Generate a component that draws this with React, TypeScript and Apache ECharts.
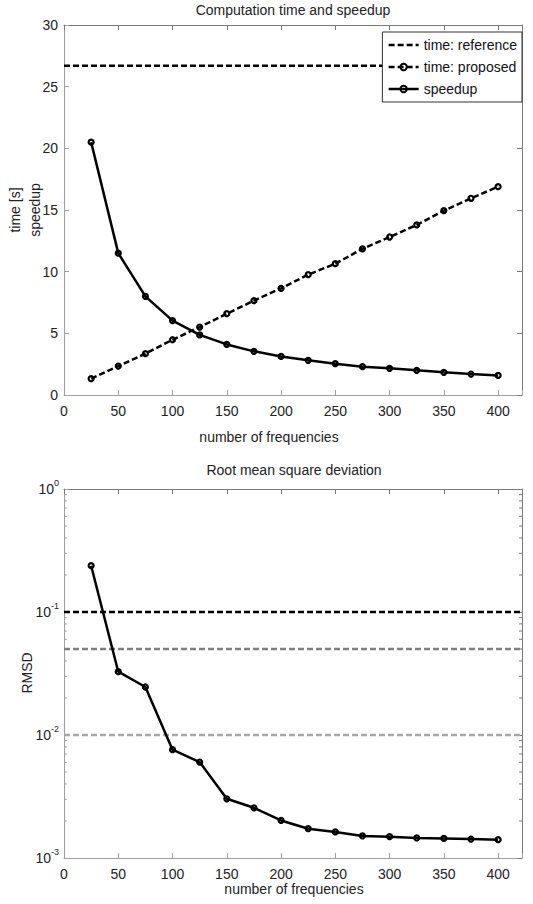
import React, { useEffect, useRef } from "react";
import * as echarts from "echarts";

// ---- data ----
const freqs = [25, 50, 75, 100, 125, 150, 175, 200, 225, 250, 275, 300, 325, 350, 375, 400];
const speedup = [20.5, 11.5, 8.0, 6.03, 4.87, 4.1, 3.54, 3.13, 2.81, 2.54, 2.3, 2.16, 2.0, 1.84, 1.7, 1.59];
const timeProposed = [1.32, 2.35, 3.35, 4.48, 5.51, 6.59, 7.65, 8.65, 9.76, 10.65, 11.85, 12.81, 13.79, 14.95, 15.95, 16.89];
const timeReference = 26.7;
const rmsd = [0.2378, 0.0327, 0.02456, 0.0076, 0.00603, 0.00303, 0.00256, 0.00202, 0.00173, 0.00163, 0.00151, 0.00149, 0.001455, 0.001443, 0.001426, 0.001409];
const rmsdThresholds = [0.1, 0.05, 0.01];
const thresholdColors = ["#000000", "#808080", "#a8a8a8"];
const xMin = 0;
const xMax = 422;
const xTickStep = 50;
const timeTicks = { min: 0, max: 30, step: 5 };
const rmsdRange = { min: 0.001, max: 1 };
const logMinorTicks = [
  0.002, 0.003, 0.004, 0.005, 0.006, 0.007, 0.008, 0.009,
  0.02, 0.03, 0.04, 0.05, 0.06, 0.07, 0.08, 0.09,
  0.2, 0.3, 0.4, 0.5, 0.6, 0.7, 0.8, 0.9,
];
const legendNames = ["time: reference", "time: proposed", "speedup"];

const FONT = '"Liberation Sans", Arial, Helvetica, sans-serif';
const TEXT = "#222222";
const AXIS_LIGHT = "#a0a0a0";
const AXIS_DARK = "#7a7a7a";

export default function App() {
  const ref = useRef<HTMLDivElement>(null);

  useEffect(() => {
    document.body.style.margin = "0";
    if (!ref.current) return;
    const chart = echarts.init(ref.current, null, { renderer: "svg" });

    const xLabelFmt = (v: number) => (Math.abs(v % xTickStep) < 1e-9 ? String(v) : "");

    const bottomX = (gi: number) => ({
      gridIndex: gi,
      type: "value",
      min: xMin,
      max: xMax,
      interval: xTickStep,
      position: "bottom",
      axisLine: { onZero: false, lineStyle: { color: AXIS_LIGHT, width: 1 } },
      axisTick: { inside: true, length: 5, lineStyle: { color: AXIS_LIGHT } },
      axisLabel: { formatter: xLabelFmt, margin: 9, color: TEXT, fontSize: 14, fontFamily: FONT },
      splitLine: { show: false },
    });
    const topX = (gi: number) => ({
      gridIndex: gi,
      type: "value",
      min: xMin,
      max: xMax,
      interval: xTickStep,
      position: "top",
      axisLine: { onZero: false, lineStyle: { color: AXIS_DARK, width: 1 } },
      axisTick: { inside: true, length: 5, lineStyle: { color: AXIS_DARK } },
      axisLabel: { show: false },
      splitLine: { show: false },
    });

    const markerStyle = {
      symbol: "circle",
      symbolSize: 5,
      itemStyle: { color: "rgba(0,0,0,0)", borderColor: "#000", borderWidth: 2.2 },
    };

    const option: any = {
      animation: false,
      backgroundColor: "#ffffff",
      textStyle: { fontFamily: FONT },
      grid: [
        { left: 64, top: 25, width: 458, height: 370 },
        { left: 64, top: 489, width: 458, height: 369 },
      ],
      legend: {
        data: [
          { name: legendNames[0], itemStyle: { opacity: 0 } },
          { name: legendNames[1] },
          { name: legendNames[2] },
        ],
        orient: "vertical",
        right: 11,
        top: 32,
        itemWidth: 30,
        itemHeight: 8,
        itemGap: 8,
        padding: [6, 5, 6, 5],
        borderColor: "#333",
        borderWidth: 1,
        borderRadius: 0,
        backgroundColor: "#fff",
        lineStyle: { width: 2.5 },
        textStyle: { fontSize: 14, color: "#111", fontFamily: FONT },
      },
      xAxis: [bottomX(0), topX(0), bottomX(1), topX(1)],
      yAxis: [
        {
          gridIndex: 0,
          type: "value",
          min: timeTicks.min,
          max: timeTicks.max,
          interval: timeTicks.step,
          position: "left",
          axisLine: { onZero: false, lineStyle: { color: AXIS_LIGHT } },
          axisTick: { inside: true, length: 5, lineStyle: { color: AXIS_LIGHT } },
          axisLabel: { margin: 6, color: TEXT, fontSize: 14, fontFamily: FONT },
          splitLine: { show: false },
        },
        {
          gridIndex: 0,
          type: "value",
          min: timeTicks.min,
          max: timeTicks.max,
          interval: timeTicks.step,
          position: "right",
          axisLine: { onZero: false, lineStyle: { color: AXIS_DARK } },
          axisTick: { inside: true, length: 5, lineStyle: { color: AXIS_DARK } },
          axisLabel: { show: false },
          splitLine: { show: false },
        },
        {
          gridIndex: 1,
          type: "log",
          logBase: 10,
          min: rmsdRange.min,
          max: rmsdRange.max,
          splitNumber: 3,
          position: "left",
          axisLine: { onZero: false, lineStyle: { color: AXIS_LIGHT } },
          axisTick: { inside: true, length: 5, lineStyle: { color: AXIS_LIGHT } },
          axisLabel: {
            margin: 5,
            color: TEXT,
            fontFamily: FONT,
            formatter: (v: number) => `{b|10}{s|${Math.round(Math.log10(v))}}`,
            rich: {
              b: { fontSize: 14, fontFamily: FONT, color: TEXT, lineHeight: 22 },
              s: { fontSize: 9, fontFamily: FONT, color: TEXT, lineHeight: 12, verticalAlign: "top" },
            },
          },
          splitLine: { show: false },
        },
        {
          gridIndex: 1,
          type: "log",
          logBase: 10,
          min: rmsdRange.min,
          max: rmsdRange.max,
          splitNumber: 3,
          position: "right",
          axisLine: { onZero: false, lineStyle: { color: AXIS_DARK } },
          axisTick: { inside: true, length: 5, lineStyle: { color: AXIS_DARK } },
          axisLabel: { show: false },
          splitLine: { show: false },
        },
      ],
      series: [
        {
          name: "time: reference",
          type: "line",
          xAxisIndex: 0,
          yAxisIndex: 0,
          data: [
            [xMin, timeReference],
            [xMax, timeReference],
          ],
          symbol: "none",
          lineStyle: { color: "#000", width: 2.5, type: [6, 3] },
          itemStyle: { color: "#000" },
          z: 2,
        },
        {
          name: "time: proposed",
          type: "line",
          xAxisIndex: 0,
          yAxisIndex: 0,
          data: freqs.map((f, i) => [f, timeProposed[i]]),
          ...markerStyle,
          lineStyle: { color: "#000", width: 2.5, type: [6, 3] },
          z: 3,
        },
        {
          name: "speedup",
          type: "line",
          xAxisIndex: 0,
          yAxisIndex: 0,
          data: freqs.map((f, i) => [f, speedup[i]]),
          ...markerStyle,
          lineStyle: { color: "#000", width: 2.5 },
          z: 4,
        },
        ...rmsdThresholds.map((t, i) => ({
          name: `threshold ${t}`,
          type: "line",
          xAxisIndex: 2,
          yAxisIndex: 2,
          data: [
            [xMin, t],
            [xMax, t],
          ],
          symbol: "none",
          lineStyle: { color: thresholdColors[i], width: 2.5, type: [6, 3] },
          itemStyle: { color: thresholdColors[i] },
          z: 2,
        })),
        {
          name: "RMSD",
          type: "line",
          xAxisIndex: 2,
          yAxisIndex: 2,
          data: freqs.map((f, i) => [f, rmsd[i]]),
          ...markerStyle,
          lineStyle: { color: "#000", width: 2.5 },
          z: 4,
        },
        {
          name: "minor ticks",
          type: "custom",
          xAxisIndex: 2,
          yAxisIndex: 2,
          silent: true,
          clip: false,
          data: logMinorTicks.map((v) => [xMin, v]),
          renderItem: (params: any, api: any) => {
            const v = api.value(1);
            const p0 = api.coord([xMin, v]);
            const p1 = api.coord([xMax, v]);
            return {
              type: "group",
              children: [
                {
                  type: "line",
                  shape: { x1: p0[0], y1: p0[1], x2: p0[0] + 3, y2: p0[1] },
                  style: { stroke: AXIS_LIGHT, lineWidth: 1 },
                },
                {
                  type: "line",
                  shape: { x1: p1[0] - 3, y1: p1[1], x2: p1[0], y2: p1[1] },
                  style: { stroke: AXIS_DARK, lineWidth: 1 },
                },
              ],
            };
          },
          z: 1,
        },
      ],
      graphic: [
        {
          type: "text",
          x: 293,
          y: 10,
          style: { text: "Computation time and speedup", align: "center", verticalAlign: "middle", font: `14px ${FONT}`, fill: TEXT },
        },
        {
          type: "text",
          x: 269,
          y: 437,
          style: { text: "number of frequencies", align: "center", verticalAlign: "middle", font: `14px ${FONT}`, fill: TEXT },
        },
        {
          type: "text",
          x: 25,
          y: 210,
          rotation: Math.PI / 2,
          style: { text: "time [s]\nspeedup", align: "center", verticalAlign: "middle", font: `14px ${FONT}`, lineHeight: 20, fill: TEXT },
        },
        {
          type: "text",
          x: 294,
          y: 470,
          style: { text: "Root mean square deviation", align: "center", verticalAlign: "middle", font: `14px ${FONT}`, fill: TEXT },
        },
        {
          type: "text",
          x: 294,
          y: 889,
          style: { text: "number of frequencies", align: "center", verticalAlign: "middle", font: `14px ${FONT}`, fill: TEXT },
        },
        {
          type: "text",
          x: 27,
          y: 673,
          rotation: Math.PI / 2,
          style: { text: "RMSD", align: "center", verticalAlign: "middle", font: `14px ${FONT}`, fill: TEXT },
        },
      ],
    };

    chart.setOption(option);
    return () => chart.dispose();
  }, []);

  return <div ref={ref} style={{ width: 533, height: 904 }} />;
}
